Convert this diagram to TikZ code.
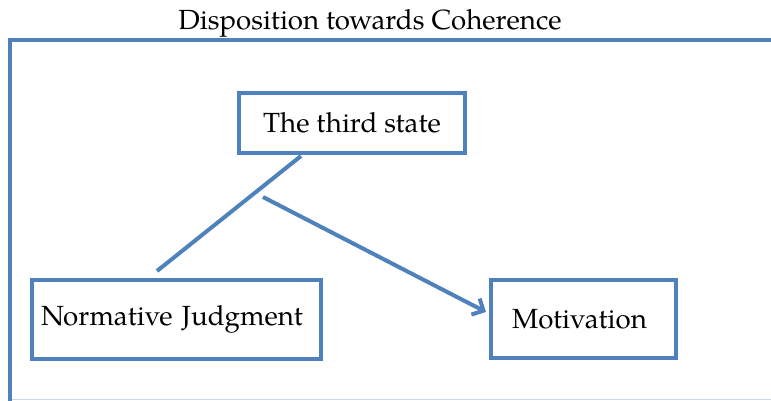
\documentclass[tikz,border=0pt]{standalone}
\usepackage{fontspec}
\setmainfont{TeX Gyre Pagella}
\usetikzlibrary{arrows.meta,shadows,calc}
\definecolor{boxblue}{HTML}{4F81BD}
\definecolor{lightframe}{HTML}{C6D9F0}
\begin{document}
\begin{tikzpicture}[x=1pt,y=-1pt,
  lbl/.style={font=\fontsize{27.7}{32}\selectfont},
  box/.style={draw=boxblue,line width=4pt,fill=white,inner sep=0pt,
    font=\fontsize{27.7}{32}\selectfont,
    drop shadow={shadow xshift=2pt,shadow yshift=-2pt,opacity=0.25,fill=black!60}},
  conn/.style={draw=boxblue,line width=4pt}]
\useasboundingbox (0,0) rectangle (771,401);
\clip (0,0) rectangle (771,401);
% title and frame
\node[lbl] (title) at (370,23) {Disposition towards Coherence};
\draw[lightframe,line width=1.5pt] (10,399.5) -- (790,399.5);
\draw[boxblue,line width=4pt] (10,420) -- (10,40) -- (790,40);
% boxes
\node[box,minimum width=226pt,minimum height=60pt] (third) at (352,123) {The third state};
\node[box,minimum height=79pt,text width=271pt,inner xsep=9pt,align=left] (norm) at (176.5,319.5) {Normative Judgment};
\node[box,minimum width=185pt,minimum height=78pt] (mot) at (583.5,319) {\hspace*{-8pt}Motivation};
% connectors
\coordinate (a1) at (301,156);
\coordinate (a2) at (157,271);
\coordinate (b1) at (263,197);
\draw[conn] (a1) -- (a2);
\draw[conn,-{Straight Barb[length=9pt,width=18pt]}] (b1) -- ($(mot.west)+(-3,-7)$);
\end{tikzpicture}
\end{document}
